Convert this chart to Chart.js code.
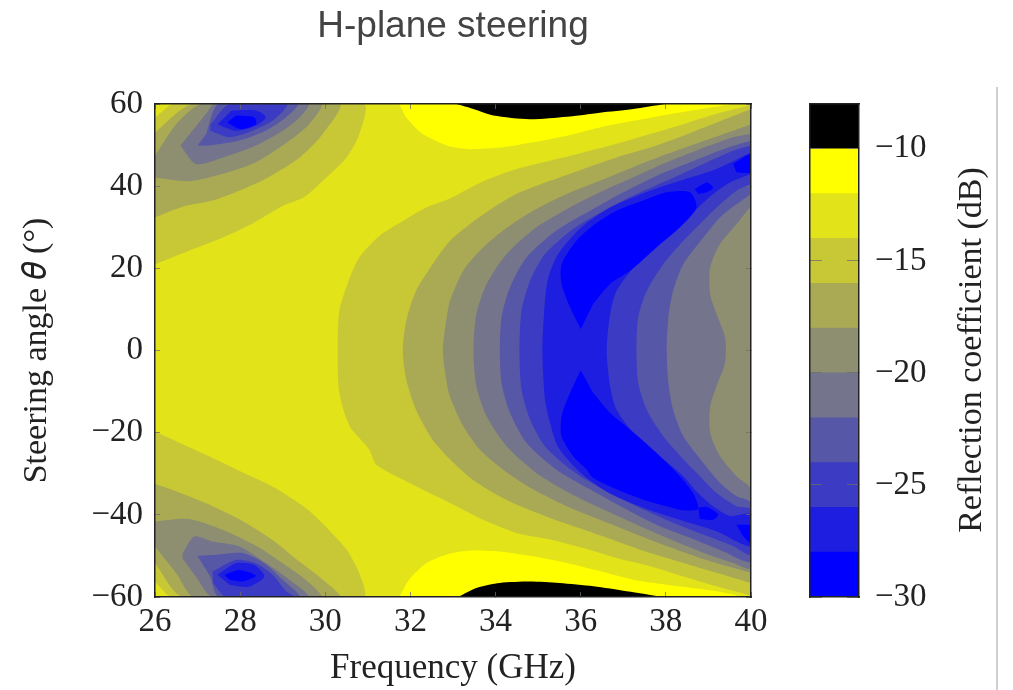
<!DOCTYPE html>
<html>
<head>
<meta charset="utf-8">
<title>H-plane steering</title>
<script src="https://cdn.jsdelivr.net/npm/chart.js@4/dist/chart.umd.min.js"></script>
<style>
  html, body { margin: 0; padding: 0; background: #fff; overflow: hidden; }
  #plot { position: absolute; left: 0; top: 0; }
  #bar { position: absolute; left: 800px; top: 0; }
  #edge { position: absolute; left: 996px; top: 87px; width: 2px; height: 603px; background: #d0d0d0; }
</style>
</head>
<body>
<canvas id="plot" width="800" height="690"></canvas>
<canvas id="bar" width="190" height="690"></canvas>
<div id="edge"></div>
<script>
// axis ticks
const freqTicks = [26, 28, 30, 32, 34, 36, 38, 40];
const angleTicks = [-60, -40, -20, 0, 20, 40, 60];
const barTicks = [-30, -25, -20, -15, -10];

// colour bar: edges in dB and the colour of each band, lowest first
const levelEdges = [-30, -28, -26, -24, -22, -20, -18, -16, -14, -12, -10, -8];
const levelColors = ['#0000ff', '#1e1ee0', '#3b3bc4', '#5757a8', '#74748c', '#8e8e70', '#aaaa55', '#c8c836', '#e3e31a', '#ffff00', '#000000'];

// contour outlines, [GHz, degrees]
const whole = [[26, -60], [40, -60], [40, 60], [26, 60]];

const below14TopLeft = [[26, 21], [26.8, 24.3], [27.6, 27.5], [28.2, 30.4], [29, 35.2], [29.5, 37.3], [29.9, 40.9], [30.5, 47], [30.8, 52.7], [30.9, 60], [26.45, 60], [26, 56.7]];
const below14BottomLeft = [[26, -19.7], [27.2, -25.4], [28, -29.4], [28.76, -33.1], [29.55, -38.4], [30, -42.8], [30.5, -48.5], [30.8, -54.2], [30.9, -60], [26.4, -60], [26, -56.3]];
const below14Right = [[40, 59.8], [39.19, 57.6], [38.41, 55.1], [37.63, 52.7], [36.84, 50.3], [36.06, 48.2], [35.28, 46.2], [34.49, 44.2], [33.71, 41.2], [32.93, 37], [32.37, 34.8], [31.9, 32], [31.27, 27.9], [30.8, 22.7], [30.52, 16.2], [30.33, 9.7], [30.29, 0], [30.33, -10.3], [30.57, -18.4], [31.03, -24.1], [31.2, -27.8], [31.9, -31.8], [32.93, -37.1], [33.71, -41.2], [34.49, -44.4], [35.28, -46], [36.06, -48.1], [36.84, -50.5], [37.63, -52.5], [38.41, -55], [39.19, -57.4], [40, -59.7]];

const below16TopLeft = [[26, 32.4], [26.65, 35], [27.35, 36.5], [27.98, 38.9], [28.6, 41.8], [29.4, 47], [29.94, 52.7], [30.33, 60], [26.88, 60], [26, 53.1]];
const below16BottomLeft = [[26, -32.5], [26.4, -33.9], [27.2, -37.2], [28, -41.2], [28.76, -46.1], [29.3, -50.6], [29.85, -55], [30.33, -60], [26.65, -60], [26, -51.8]];
const below16Right = [[40, 58.8], [39.19, 55.5], [38.41, 52.3], [37.63, 49.4], [36.84, 47], [36.06, 44.2], [35.28, 41.3], [34.49, 38.1], [33.95, 34.8], [33.4, 30.8], [32.93, 26.7], [32.52, 21], [32.13, 14.5], [31.9, 7.2], [31.82, 0], [31.9, -7], [32.13, -14.4], [32.52, -21.7], [32.93, -26.5], [33.4, -31], [33.95, -34.7], [34.49, -37.5], [35.28, -40.8], [36.06, -43.6], [36.84, -46.4], [37.63, -49.3], [38.41, -51.7], [39.19, -54.1], [40, -56.6]];

const below18TopLeft = [[26, 42.1], [26.8, 41.2], [27.6, 43], [28.37, 45.8], [29.16, 51.1], [29.62, 55.1], [29.9, 60], [27.1, 60], [26.5, 55.1], [26, 47.4]];
const below18BottomLeft = [[26, -41.6], [26.8, -41], [27.6, -43.7], [28.4, -47.7], [29, -51.8], [29.55, -55.9], [29.9, -60], [26.92, -60], [26.5, -54.2], [26, -47.7]];
const below18Right = [[40, 55.1], [39.58, 53.5], [38.8, 50.7], [38.02, 47.8], [37.23, 44.6], [36.45, 41.3], [35.67, 38.1], [34.88, 34], [34.18, 29.2], [33.63, 24.3], [33.24, 19.4], [32.93, 12.1], [32.84, 7.2], [32.76, 0], [32.84, -7], [32.93, -11.3], [33.24, -18.4], [33.63, -24.1], [34.18, -29], [34.88, -33.8], [35.67, -37.9], [36.45, -41.2], [37.23, -44.4], [38.02, -47.6], [38.8, -50.5], [39.58, -52.9], [40, -54.1]];

const below20TopLeft = [[26.6, 49.9], [26.96, 45.4], [27.6, 47], [28.37, 49.9], [29, 53.5], [29.4, 56.8], [29.6, 60], [27.4, 60], [27.2, 57.6]];
const below20BottomLeft = [[26.65, -49.4], [26.92, -45.3], [27.35, -46.5], [27.98, -47.7], [28.5, -51], [29.05, -55], [29.6, -60], [27.35, -60], [26.96, -55], [26.65, -50.6]];
const below20Right = [[40, 52.7], [39.58, 51.9], [38.8, 49], [38.02, 45.8], [37.23, 42.1], [36.45, 38.5], [35.67, 34.4], [34.96, 30], [34.26, 23.5], [33.79, 16.2], [33.55, 8.9], [33.48, 0], [33.55, -8.7], [33.79, -16], [34.26, -23.3], [34.96, -29.8], [35.67, -34.3], [36.45, -38.3], [37.23, -42], [38.02, -45.6], [38.8, -48.9], [39.58, -51.7], [40, -52.9], [40, -33.8], [39.66, -30.6], [39.27, -25.7], [39.04, -20], [39.04, -13.6], [39.19, -8.7], [39.39, -3], [39.39, 3.2], [39.19, 8.9], [39.04, 13.7], [39.04, 20.2], [39.27, 25.9], [39.66, 30.8], [40, 35.2]];

const below22TopLeft = [[27, 49.9], [27.28, 49.9], [27.98, 51.1], [28.6, 53.5], [29.08, 56.8], [29.35, 60], [27.5, 60], [27.2, 52.7]];
const below22BottomLeft = [[27, -50], [27.35, -49.8], [28.06, -49.3], [28.6, -52], [29, -55.8], [29.39, -60], [27.5, -60], [27.3, -55.1]];
const below22Right = [[40, 51.1], [39.35, 49], [38.57, 45.8], [37.78, 42.5], [37, 38.5], [36.22, 34], [35.43, 29.2], [34.73, 22.7], [34.34, 15.4], [34.14, 8.1], [34.1, 0], [34.14, -7.9], [34.34, -15.2], [34.73, -22.5], [35.43, -29], [36.22, -33.8], [37, -38.3], [37.78, -42.4], [38.57, -45.6], [39.35, -48.9], [40, -51.3], [40, -37.1], [39.66, -35.5], [39.27, -32.2], [38.88, -27.4], [38.41, -20.9], [38.17, -14.4], [38.06, -7.9], [38.02, 0], [38.06, 8.1], [38.17, 14.5], [38.41, 21], [38.88, 27.5], [39.27, 32.4], [39.66, 35.6], [40, 38.1]];

const below24TopLeft = [[27.3, 53.5], [27.75, 51.9], [28.2, 53.1], [28.76, 55.9], [29.1, 60], [27.75, 60], [27.3, 55]];
const below24BottomLeft = [[27.35, -53.8], [27.9, -51], [28.37, -51.8], [28.76, -54.6], [29.08, -58.6], [29.27, -60], [27.67, -60], [27.37, -56.7]];
const below24Right = [[40, 49.9], [39.58, 48.6], [38.88, 45.4], [38.1, 41.7], [37.31, 38.1], [36.61, 34.4], [35.82, 29.6], [35.16, 23.5], [34.81, 17], [34.61, 9.7], [34.56, 0], [34.61, -9.5], [34.81, -16.8], [35.16, -23.3], [35.82, -29.4], [36.61, -34.3], [37.31, -37.9], [38.1, -41.6], [38.88, -44.8], [39.58, -47.6], [40, -49.7], [40, -38.7], [39.66, -37.9], [39.19, -34.7], [38.8, -30.6], [38.41, -26.5], [37.94, -20.9], [37.55, -14.4], [37.35, -7.9], [37.31, 0], [37.35, 8.1], [37.55, 14.5], [37.94, 21], [38.41, 26.7], [38.8, 30.8], [39.19, 34.8], [39.66, 38.9], [40, 40.5]];

const below26TopLeft = [[27.47, 55.1], [27.9, 53.5], [28.37, 54.7], [28.6, 56.8], [28.37, 58.4], [27.8, 58.4]];
const below26BottomLeft = [[27.47, -54.6], [27.9, -51.8], [28.33, -52.2], [28.57, -55], [28.2, -57.5], [27.75, -57]];
const below26Right = [[40, 48.2], [39.19, 44.2], [38.57, 42.1], [37.63, 38.9], [36.69, 34.8], [36.02, 30], [35.47, 23.5], [35.24, 17.8], [35.16, 12.1], [35.1, 0], [35.16, -11.9], [35.28, -17.6], [35.47, -23.5], [36.02, -30], [36.69, -34.8], [37.63, -38.9], [38.57, -42], [39.19, -44], [40, -47.6], [40, -39.9], [39.51, -40.3], [39.11, -37.9], [38.72, -34.3], [38.41, -30.6], [37.94, -26.5], [37.31, -20.9], [36.84, -14.4], [36.69, -8.7], [36.61, 0], [36.69, 8.9], [36.84, 14.5], [37.31, 21], [37.94, 26.7], [38.41, 30.8], [38.72, 34.4], [39.11, 38.1], [39.51, 40.9], [40, 43]];

const below28TopLeft = [[27.7, 55.5], [28, 53.9], [28.37, 55.1], [28.33, 56.8], [27.9, 57.2]];
const below28BottomLeft = [[27.63, -54.6], [27.98, -53.4], [28.37, -54.8], [28.06, -56.2], [27.75, -55.8]];
const below28Upper = [[36, 5.2], [35.75, 10.5], [35.55, 16.2], [35.55, 21], [35.9, 26.7], [36.29, 30.4], [36.84, 34], [37.47, 36.5], [38.02, 38.5], [38.57, 38.5], [38.72, 34.8], [38.33, 30], [37.78, 25.1], [37.16, 19.4], [36.69, 16.2], [36.29, 11.3]];
const below28Lower = [[36, -4.8], [35.75, -10.3], [35.55, -16], [35.55, -20.9], [35.82, -25.7], [36.14, -29], [36.29, -31], [36.84, -33.8], [37.47, -36.3], [38.02, -37.9], [38.41, -38.9], [38.76, -38.5], [38.64, -34.7], [38.33, -30.6], [37.78, -24.9], [37.16, -19.2], [36.69, -15.2], [36.29, -10.3]];
const below28BlobUp = [[38.68, 39.3], [38.96, 40.9], [39.11, 39.7], [38.96, 38.5], [38.76, 38.1]];
const below28BlobDown = [[38.76, -38.3], [38.96, -38.1], [39.23, -39.9], [39.11, -41.2], [38.8, -41]];
const below28EdgeUp = [[39.58, 45.4], [39.82, 47], [40, 47.8], [40, 43.4], [39.66, 43.4]];
const below28EdgeDown = [[39.66, -42.4], [39.82, -45.2], [40, -46.8], [40, -42.4]];

const above12Top = [[31.74, 60], [31.9, 56.8], [32.29, 52.7], [32.91, 49.7], [33.4, 49], [34.1, 49.4], [34.88, 50.7], [35.67, 52.3], [36.45, 54.3], [37.23, 55.9], [38.02, 57.4], [39.2, 59.4], [39.58, 60]];
const above12Bottom = [[31.74, -60], [31.97, -55.8], [32.37, -51.8], [32.91, -49.5], [33.4, -48.7], [34.1, -48.9], [34.88, -50.1], [35.67, -51.7], [36.45, -53.7], [37.23, -55.8], [38.02, -57], [39.2, -58.6], [39.82, -60]];
const above10Top = [[33.08, 60], [33.48, 58.8], [33.95, 57.2], [34.8, 56.3], [35.67, 56.9], [36.45, 57.9], [37.23, 58.8], [37.98, 60]];
const above10Bottom = [[33.12, -60], [33.55, -57.8], [34.1, -56.6], [34.8, -56.25], [35.5, -56.6], [36.3, -57.4], [37.08, -58.6], [37.94, -60]];

// painted in this order, each one over the one before
const regions = [
  [whole, 8],
  [below14TopLeft, 7], [below14BottomLeft, 7], [below14Right, 7],
  [below16TopLeft, 6], [below16BottomLeft, 6], [below16Right, 6],
  [below18TopLeft, 5], [below18BottomLeft, 5], [below18Right, 5],
  [below20TopLeft, 4], [below20BottomLeft, 4], [below20Right, 4],
  [below22TopLeft, 3], [below22BottomLeft, 3], [below22Right, 3],
  [below24TopLeft, 2], [below24BottomLeft, 2], [below24Right, 2],
  [below26TopLeft, 1], [below26BottomLeft, 1], [below26Right, 1],
  [below28TopLeft, 0], [below28BottomLeft, 0], [below28Upper, 0], [below28Lower, 0],
  [below28BlobUp, 0], [below28BlobDown, 0], [below28EdgeUp, 0], [below28EdgeDown, 0],
  [above12Top, 9], [above12Bottom, 9], [above10Top, 10], [above10Bottom, 10]
];

const serif = '"Liberation Serif", "DejaVu Serif", serif';
const inkColor = '#222222';
const tickMark = 'rgba(110,110,110,0.75)';
const minus = (v) => String(v).replace('-', '\u2212');
const setTicks = (list) => (scale) => { scale.ticks = list.map((v) => ({ value: v })); };

// inward tick marks: negative tickLength, drawn over the datasets
function sideAxis(position, min, max, list, length) {
  return {
    type: 'linear',
    position: position,
    min: min,
    max: max,
    afterBuildTicks: setTicks(list),
    afterFit: (scale) => { if (scale.isHorizontal()) scale.height = 0; else scale.width = 0; },
    ticks: { display: false },
    border: { color: inkColor, width: 1.5, z: 2 },
    grid: { drawOnChartArea: false, tickLength: -length, color: tickMark, z: 1 }
  };
}

new Chart(document.getElementById('plot'), {
  type: 'scatter',
  data: {
    datasets: regions.map(([points, band], i) => ({
      data: points,
      showLine: true,
      fill: 'shape',
      tension: 0.25,
      backgroundColor: levelColors[band],
      borderWidth: 0,
      pointRadius: 0,
      order: regions.length - i
    }))
  },
  options: {
    responsive: false,
    animation: false,
    layout: { padding: { right: 49 } },
    plugins: {
      legend: { display: false },
      tooltip: { enabled: false },
      title: {
        display: true,
        fullSize: false,
        text: 'H-plane steering',
        color: '#444444',
        font: { family: '"Liberation Sans", Arial, sans-serif', size: 37, weight: 'normal' },
        padding: { top: 5, bottom: 54.6 }
      }
    },
    scales: {
      x: {
        type: 'linear',
        position: 'bottom',
        min: 26,
        max: 40,
        afterBuildTicks: setTicks(freqTicks),
        afterFit: (scale) => { scale.height = 93; },
        ticks: { color: inkColor, font: { family: serif, size: 33 }, padding: 11, maxRotation: 0, autoSkip: false, callback: minus },
        border: { color: inkColor, width: 1.5, z: 2 },
        grid: { drawOnChartArea: false, tickLength: -5, color: tickMark, z: 1 },
        title: { display: true, text: 'Frequency (GHz)', color: inkColor, font: { family: serif, size: 35 }, padding: { top: 0, bottom: 0 } }
      },
      y: {
        type: 'linear',
        position: 'left',
        min: -60,
        max: 60,
        afterBuildTicks: setTicks(angleTicks),
        afterFit: (scale) => { scale.width = 155; },
        ticks: { color: inkColor, font: { family: serif, size: 33 }, padding: 17, autoSkip: false, callback: minus },
        border: { color: inkColor, width: 1.5, z: 2 },
        grid: { drawOnChartArea: false, tickLength: -5, color: tickMark, z: 1 },
        title: { display: true, text: 'Steering angle \u{1D703} (\u00B0)', color: inkColor, font: { family: serif, size: 34 }, padding: { top: 17, bottom: 0 } }
      },
      xTop: sideAxis('top', 26, 40, freqTicks, 5),
      yRight: sideAxis('right', -60, 60, angleTicks, 5)
    }
  }
});

// right axis titles read downwards in Chart.js, this one reads upwards
const upwardLabel = {
  id: 'upwardLabel',
  afterDraw(chart) {
    const ctx = chart.ctx;
    ctx.save();
    ctx.translate(172, 350);
    ctx.rotate(-Math.PI / 2);
    ctx.font = '34px ' + serif;
    ctx.fillStyle = inkColor;
    ctx.textAlign = 'center';
    ctx.textBaseline = 'middle';
    ctx.fillText('Reflection coefficient (dB)', 0, 0);
    ctx.restore();
  }
};

new Chart(document.getElementById('bar'), {
  type: 'bar',
  data: {
    labels: [''],
    datasets: levelColors.map((color, i) => ({
      data: [[levelEdges[i], levelEdges[i + 1]]],
      backgroundColor: color,
      borderWidth: 0,
      grouped: false,
      barPercentage: 1,
      categoryPercentage: 1
    }))
  },
  options: {
    responsive: false,
    animation: false,
    layout: { padding: { left: 10, top: 104, bottom: 0 } },
    plugins: { legend: { display: false }, tooltip: { enabled: false } },
    scales: {
      x: {
        position: 'bottom',
        afterFit: (scale) => { scale.height = 93; },
        ticks: { display: false },
        border: { color: inkColor, width: 1.5, z: 2 },
        grid: { display: false }
      },
      y: {
        position: 'right',
        min: -30,
        max: -8,
        afterBuildTicks: setTicks(barTicks),
        afterFit: (scale) => { scale.width = 131; },
        ticks: { color: inkColor, font: { family: serif, size: 33 }, padding: 28, autoSkip: false, callback: minus },
        border: { color: inkColor, width: 1.5, z: 2 },
        grid: { drawOnChartArea: false, tickLength: -12, color: tickMark, z: 1 }
      },
      yLeft: sideAxis('left', -30, -8, barTicks, 12),
      xTop: sideAxis('top', 0, 1, [], 0)
    }
  },
  plugins: [upwardLabel]
});
</script>
</body>
</html>
